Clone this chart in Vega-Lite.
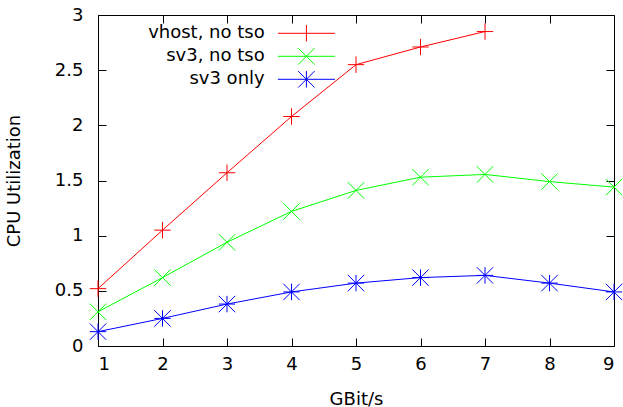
{
  "$schema": "https://vega.github.io/schema/vega-lite/v6.json",
  "width": 516,
  "height": 331,
  "autosize": {"type": "none"},
  "padding": {"left": 98, "top": 15, "right": 9, "bottom": 61},
  "background": "white",
  "config": {
    "view": {"stroke": "black", "strokeWidth": 1},
    "font": "DejaVu Sans",
    "axis": {
      "domain": false,
      "grid": false,
      "tickColor": "black",
      "tickSize": -8,
      "tickWidth": 1,
      "labelFont": "DejaVu Sans",
      "labelFontSize": 18,
      "labelColor": "black",
      "titleFont": "DejaVu Sans",
      "titleFontSize": 18,
      "titleFontWeight": "normal",
      "titleColor": "black"
    }
  },
  "data": {
    "values": [
      {"series": "vhost, no tso", "x": 1, "y": 0.52},
      {"series": "vhost, no tso", "x": 2, "y": 1.05},
      {"series": "vhost, no tso", "x": 3, "y": 1.57},
      {"series": "vhost, no tso", "x": 4, "y": 2.08},
      {"series": "vhost, no tso", "x": 5, "y": 2.55},
      {"series": "vhost, no tso", "x": 6, "y": 2.71},
      {"series": "vhost, no tso", "x": 7, "y": 2.85},
      {"series": "sv3, no tso", "x": 1, "y": 0.31},
      {"series": "sv3, no tso", "x": 2, "y": 0.62},
      {"series": "sv3, no tso", "x": 3, "y": 0.94},
      {"series": "sv3, no tso", "x": 4, "y": 1.22},
      {"series": "sv3, no tso", "x": 5, "y": 1.41},
      {"series": "sv3, no tso", "x": 6, "y": 1.53},
      {"series": "sv3, no tso", "x": 7, "y": 1.555},
      {"series": "sv3, no tso", "x": 8, "y": 1.49},
      {"series": "sv3, no tso", "x": 9, "y": 1.44},
      {"series": "sv3 only", "x": 1, "y": 0.13},
      {"series": "sv3 only", "x": 2, "y": 0.25},
      {"series": "sv3 only", "x": 3, "y": 0.38},
      {"series": "sv3 only", "x": 4, "y": 0.49},
      {"series": "sv3 only", "x": 5, "y": 0.57},
      {"series": "sv3 only", "x": 6, "y": 0.62},
      {"series": "sv3 only", "x": 7, "y": 0.64},
      {"series": "sv3 only", "x": 8, "y": 0.57},
      {"series": "sv3 only", "x": 9, "y": 0.49}
    ]
  },
  "layer": [
    {
      "mark": {"type": "line", "strokeWidth": 1},
      "encoding": {
        "x": {"field": "x", "type": "quantitative", "scale": {"domain": [1, 9], "nice": false, "zero": false},
              "axis": {"orient": "bottom", "values": [1,2,3,4,5,6,7,8,9], "title": "GBit/s", "labelPadding": 17, "titlePadding": 17}},
        "y": {"field": "y", "type": "quantitative", "scale": {"domain": [0, 3], "nice": false, "zero": false},
              "axis": {"orient": "left", "values": [0,0.5,1,1.5,2,2.5,3], "format": "~g", "title": "CPU Utilization", "labelPadding": 23, "titlePadding": 31}},
        "color": {"field": "series", "type": "nominal",
                  "scale": {"domain": ["vhost, no tso", "sv3, no tso", "sv3 only"], "range": ["#ff0000", "#00ff00", "#0000ff"]},
                  "legend": null},
        "order": {"field": "x", "type": "quantitative"}
      }
    },
    {
      "mark": {"type": "point", "filled": false, "size": 270, "strokeWidth": 1, "opacity": 1},
      "encoding": {
        "x": {"field": "x", "type": "quantitative", "scale": {"domain": [1, 9], "nice": false, "zero": false},
              "axis": {"orient": "top", "values": [1,2,3,4,5,6,7,8,9], "labels": false, "title": null}},
        "y": {"field": "y", "type": "quantitative", "scale": {"domain": [0, 3], "nice": false, "zero": false},
              "axis": {"orient": "right", "values": [0,0.5,1,1.5,2,2.5,3], "labels": false, "title": null}},
        "color": {"field": "series", "type": "nominal",
                  "scale": {"domain": ["vhost, no tso", "sv3, no tso", "sv3 only"], "range": ["#ff0000", "#00ff00", "#0000ff"]},
                  "legend": null},
        "shape": {"field": "series", "type": "nominal",
                  "scale": {"domain": ["vhost, no tso", "sv3, no tso", "sv3 only"],
                            "range": ["M-1,0L1,0M0,-1L0,1", "M-1,-1L1,1M-1,1L1,-1", "M-1,0L1,0M0,-1L0,1M-1,-1L1,1M-1,1L1,-1"]},
                  "legend": null}
      }
    },
    {
      "mark": {"type": "point", "filled": false, "size": 270, "strokeWidth": 1, "opacity": 0},
      "encoding": {
        "x": {"field": "x", "type": "quantitative", "scale": {"domain": [1, 9], "nice": false, "zero": false}, "axis": null},
        "y": {"field": "y", "type": "quantitative", "scale": {"domain": [0, 3], "nice": false, "zero": false}, "axis": null},
        "stroke": {"field": "series", "type": "nominal",
                   "scale": {"domain": ["vhost, no tso", "sv3, no tso", "sv3 only"], "range": ["#ff0000", "#00ff00", "#0000ff"]},
                   "legend": {"title": null, "orient": "none", "legendX": 199.4, "legendY": 9.3, "labelAlign": "right", "labelOffset": -50.7, "labelFontSize": 18, "labelFont": "DejaVu Sans", "labelColor": "black", "symbolSize": 270, "symbolStrokeWidth": 1, "symbolOpacity": 1, "rowPadding": 1, "padding": 0}},
        "shape": {"field": "series", "type": "nominal",
                  "scale": {"domain": ["vhost, no tso", "sv3, no tso", "sv3 only"],
                            "range": ["M-3.47,0L3.47,0M0,-1L0,1", "M-3.47,0L3.47,0M-1,-1L1,1M-1,1L1,-1", "M-3.47,0L3.47,0M-1,-1L1,1M-1,1L1,-1M0,-1L0,1"]},
                  "legend": {"title": null, "orient": "none", "legendX": 199.4, "legendY": 9.3, "labelAlign": "right", "labelOffset": -50.7, "labelFontSize": 18, "labelFont": "DejaVu Sans", "labelColor": "black", "symbolSize": 270, "symbolStrokeWidth": 1, "symbolOpacity": 1, "rowPadding": 1, "padding": 0}}
      }
    }
  ],
  "resolve": {
    "scale": {"shape": "independent", "stroke": "independent"},
    "axis": {"x": "independent", "y": "independent"},
    "legend": {"shape": "independent", "stroke": "independent"}
  }
}
